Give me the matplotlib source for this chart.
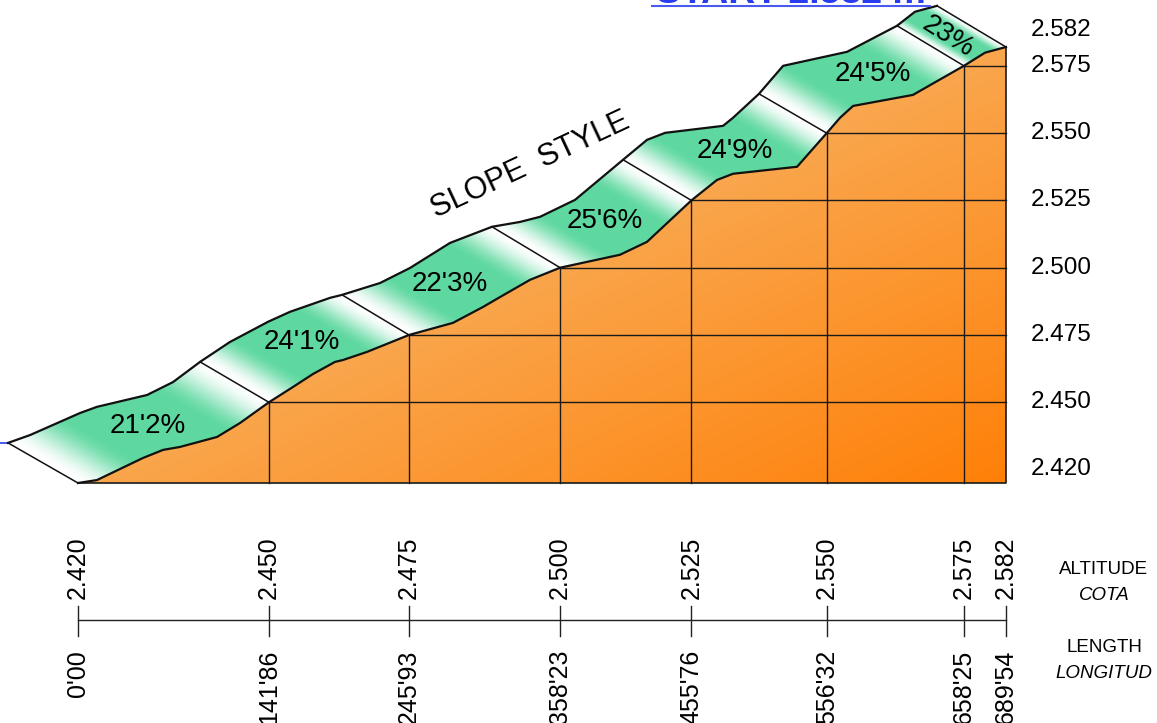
import matplotlib.pyplot as plt
import numpy as np
from matplotlib.patches import Polygon
from matplotlib import transforms

plt.rcParams['font.family'] = ['Liberation Sans', 'DejaVu Sans']

# Estaciones del perfil: distancia (m) y cota (m)
stations_d = [0.00, 141.86, 245.93, 358.23, 455.76, 556.32, 658.25, 689.54]
stations_z = [2420, 2450, 2475, 2500, 2525, 2550, 2575, 2582]
slopes = [21.2, 24.1, 22.3, 25.6, 24.9, 24.5, 23.0]
axis_levels = [2582, 2575, 2550, 2525, 2500, 2475, 2450, 2420]

# Perfil del terreno (borde inferior de la pista)
ground_d = [0.0, 14.1, 48.3, 63.2, 75.8, 103.3, 120.4, 141.86, 159.8, 174.6, 191.0,
            196.9, 214.7, 237.0, 245.93, 278.6, 300.9, 313.6, 335.9, 358.23, 402.7,
            422.8, 455.76, 474.8, 486.7, 534.3, 556.32, 566.2, 575.9, 620.4, 658.25,
            674.0, 689.54]
ground_z = [2420, 2421.1, 2429.3, 2432.3, 2433.4, 2437.1, 2442.3, 2450, 2455.7, 2460.5,
            2465.0, 2465.7, 2468.7, 2473.2, 2475, 2479.5, 2485.4, 2489.1, 2495.5, 2500,
            2504.8, 2509.6, 2525, 2532.6, 2534.9, 2537.5, 2550, 2555.7, 2560.1, 2564.2,
            2575, 2579.9, 2582]

# Borde superior de la pista
top_d = [-52.0, -35.7, 1.5, 14.1, 51.3, 70.6, 90.7, 112.9, 141.2, 157.5, 187.3, 196.2,
         224.4, 246.7, 276.4, 307.6, 328.4, 343.3, 369.3, 405.0, 422.8, 436.2, 479.3,
         486.7, 506.0, 523.9, 571.4, 608.6, 621.9, 638.3]
top_z = [2434.9, 2437.8, 2446.0, 2448.3, 2452.7, 2457.5, 2465.0, 2472.4, 2479.9, 2483.6,
         2488.8, 2489.9, 2494.3, 2499.9, 2509.2, 2515.2, 2517.0, 2518.9, 2525.2, 2540.1,
         2547.5, 2550.1, 2552.7, 2555.7, 2564.6, 2575.0, 2580.2, 2589.9, 2595.1, 2597.3]

# Extremo superior de cada divisoria entre tramos
div_top_d = [-52.0, 90.7, 196.2, 307.6, 405.0, 506.0, 608.6, 638.3]
div_top_z = [2434.9, 2465.0, 2489.9, 2515.2, 2540.1, 2564.6, 2589.9, 2597.3]

# Posición de las etiquetas de pendiente
label_d = [52.0, 166.4, 276.4, 391.6, 488.2, 590.7, 646.4]
label_z = [2441.0, 2472.3, 2493.8, 2517.3, 2543.3, 2572.0, 2585.8]


def fmt_len(v):
    return f"{v:.2f}".replace('.', "'")


def fmt_alt(v):
    return f"{v / 1000:.3f}"


def fmt_slope(v):
    s = f"{v:.1f}".replace('.', "'")
    return (s[:-2] if s.endswith("'0") else s) + '%'


W, H = 1157, 723
fig = plt.figure(figsize=(W / 100, H / 100), dpi=100)
ax = fig.add_axes([0, 0, 1, 1])
ax.axis('off')

# escala: px por metro
sx = (1006 - 78) / stations_d[-1]
sy = (483 - 47) / (stations_z[-1] - stations_z[0])
ax.set_xlim(-78 / sx, (W - 78) / sx)
ax.set_ylim(stations_z[0] - (H - 483) / sy, stations_z[0] + 483 / sy)

dmax = stations_d[-1]
zmin = stations_z[0]

# --- terreno naranja con degradado ---
gx = np.linspace(0, dmax, 400)
gy = np.linspace(zmin, stations_z[-1], 250)
GX, GY = np.meshgrid(gx, gy)
s = 0.5 * GX / dmax + 0.5 * (stations_z[-1] - GY) / (stations_z[-1] - zmin)
s = np.clip((s - 0.45) / 0.55, 0, 1)[..., None]
light = np.array([249, 170, 84]) / 255
dark = np.array([255, 128, 8]) / 255
img = light + (dark - light) * s
terrain = Polygon(np.column_stack([ground_d + [dmax], ground_z + [zmin]]),
                  closed=True, facecolor='none', edgecolor='none')
ax.add_patch(terrain)
im = ax.imshow(img, extent=[0, dmax, zmin, stations_z[-1]], origin='lower',
               aspect='auto', zorder=1, interpolation='bilinear')
im.set_clip_path(terrain)

# cuadrícula
gcol = '#1a1a1a'
for d, z in zip(stations_d[1:-1], stations_z[1:-1]):
    ax.plot([d, d], [zmin, z], color=gcol, lw=1.0, zorder=2)
    ax.plot([d, dmax], [z, z], color=gcol, lw=1.0, zorder=2)
ax.plot([0, dmax, dmax], [zmin, zmin, stations_z[-1]], color=gcol, lw=1.2, zorder=2)

# --- tramos verdes ---
green = np.array([94, 216, 160]) / 255
white = np.array([1.0, 1.0, 1.0])
bx = np.linspace(-60, 700, 700)
by = np.linspace(zmin - 2, 2600, 350)
BX, BY = np.meshgrid(bx, by)
F = 15 * BX + 51 * BY
gd = np.array(ground_d)
td = np.array(top_d)
for k in range(len(slopes)):
    gi = np.where((gd >= stations_d[k] - 1e-6) & (gd <= stations_d[k + 1] + 1e-6))[0]
    ti = np.where((td >= div_top_d[k] - 1e-6) & (td <= div_top_d[k + 1] + 1e-6))[0]
    pts = [(ground_d[i], ground_z[i]) for i in gi]
    pts += [(top_d[i], top_z[i]) for i in ti[::-1]]
    seg = Polygon(pts, closed=True, facecolor='none', edgecolor='none')
    ax.add_patch(seg)
    f0 = 15 * stations_d[k] + 51 * stations_z[k]
    f1 = 15 * stations_d[k + 1] + 51 * stations_z[k + 1]
    t = np.clip((F - f0) / (f1 - f0), 0, 1)
    a = np.clip(t / 0.3, 0, 1)
    b = np.clip((1 - t) / 0.3, 0, 1)
    w = (a * a * (3 - 2 * a)) * (b * b * (3 - 2 * b))
    gimg = white + (green - white) * w[..., None]
    gim = ax.imshow(gimg, extent=[bx[0], bx[-1], by[0], by[-1]], origin='lower',
                    aspect='auto', zorder=2, interpolation='bilinear')
    gim.set_clip_path(seg)

# divisorias
for d, z, dt, zt in zip(stations_d, stations_z, div_top_d, div_top_z):
    ax.plot([d, dt], [z, zt], color='#111111', lw=1.1, zorder=3)

# bordes de la pista
ax.plot(ground_d, ground_z, color='#111111', lw=1.6, zorder=4, solid_joinstyle='round')
ax.plot(top_d, top_z, color='#111111', lw=1.6, zorder=4, solid_joinstyle='round')
ax.plot([ax.get_xlim()[0], top_d[0]], [top_z[0], top_z[0]], color='#2a3cf0', lw=1.2, zorder=3)

# etiquetas de pendiente
for k, v in enumerate(slopes):
    rot = -32 if k == len(slopes) - 1 else 0
    ax.text(label_d[k], label_z[k], fmt_slope(v), fontsize=20, ha='center',
            va='center', rotation=rot, rotation_mode='anchor', zorder=5)

ax.text(335.9, 2538.2, 'SLOPE  STYLE', fontsize=22, rotation=25, ha='center',
        va='center', rotation_mode='anchor', zorder=5)

# cotas a la derecha
nudge = {2582: 6.4, 2420: 5.2}
for z in axis_levels:
    ax.text((1031 - 78) / sx, z + nudge.get(z, 0), fmt_alt(z), fontsize=17.5,
            ha='left', va='center', zorder=5)

# --- guitarra inferior ---
tr = transforms.blended_transform_factory(ax.transData, fig.transFigure)
ybar = 1 - 620 / H
ax.plot([0, dmax], [ybar, ybar], color='#222222', lw=1.0, transform=tr)
for d, z in zip(stations_d, stations_z):
    ax.plot([d, d], [1 - 606 / H, 1 - 636 / H], color='#222222', lw=1.0, transform=tr)
    ax.text(d, 1 - 599 / H, fmt_alt(z), rotation=90, fontsize=18, ha='center',
            va='bottom', transform=tr)
    ax.text(d, 1 - 650 / H, fmt_len(d), rotation=90, fontsize=18, ha='center',
            va='top', transform=tr)

xl = 1104 / W
fig.text(xl, 1 - 570 / H, 'ALTITUDE', fontsize=13.5, ha='center', va='center')
fig.text(xl, 1 - 596 / H, 'COTA', fontsize=13.5, ha='center', va='center', style='italic')
fig.text(xl, 1 - 648 / H, 'LENGTH', fontsize=13.5, ha='center', va='center')
fig.text(xl, 1 - 674 / H, 'LONGITUD', fontsize=13.5, ha='center', va='center', style='italic')

# título cortado arriba (como en el original)
fig.text(791 / W, 1 - 3 / H, 'START 2.582 m', fontsize=27, fontweight='bold',
         color='#2a3cf0', ha='center', va='baseline')
fig.add_artist(plt.Line2D([652 / W, 930 / W], [1 - 6 / H, 1 - 6 / H],
                          color='#4a5af0', lw=1.5))

fig.savefig('out.png', dpi=100)
